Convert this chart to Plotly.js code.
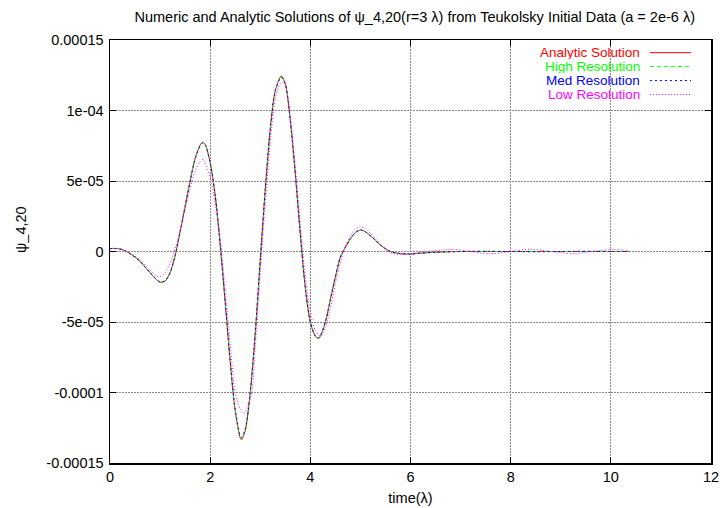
<!DOCTYPE html>
<html>
<head>
<meta charset="utf-8">
<script src="https://cdn.plot.ly/plotly-3.0.1.min.js"></script>
<style>html,body{margin:0;padding:0;background:#fff;}#chart{width:720px;height:508px;}</style>
</head>
<body>
<div id="chart"></div>
<script>
// time samples (lambda)
const tAnalytic = [0,0.1,0.2,0.3,0.4,0.5,0.6,0.7,0.8,0.9,1.0,1.1,1.2,1.3,1.4,1.5,1.6,1.7,1.8,1.85,1.9,2.0,2.1,2.2,2.3,2.4,2.5,2.62,2.7,2.8,2.9,3.0,3.1,3.2,3.3,3.42,3.5,3.6,3.7,3.8,3.9,4.0,4.1,4.17,4.3,4.4,4.5,4.6,4.7,4.8,4.9,5.0,5.1,5.2,5.3,5.4,5.5,5.6,5.8,6.0,6.2,6.5,7.0,7.5,8.0,8.5,9.0,9.5,10.0,10.35];
const analytic = [0.2e-5,0.22e-5,0.18e-5,0.05e-5,-0.15e-5,-0.4e-5,-0.7e-5,-1.1e-5,-1.5e-5,-1.9e-5,-2.18e-5,-2.1e-5,-1.5e-5,-0.3e-5,1.4e-5,3.2e-5,5.0e-5,6.6e-5,7.55e-5,7.75e-5,7.6e-5,6.3e-5,4.0e-5,0.5e-5,-3.6e-5,-7.8e-5,-11.3e-5,-13.35e-5,-12.7e-5,-10.0e-5,-5.8e-5,-0.6e-5,4.4e-5,8.7e-5,11.4e-5,12.45e-5,11.9e-5,9.3e-5,5.5e-5,1.2e-5,-2.6e-5,-5.0e-5,-6.0e-5,-6.16e-5,-5.0e-5,-3.4e-5,-1.8e-5,-0.4e-5,0.3e-5,0.9e-5,1.35e-5,1.52e-5,1.4e-5,1.1e-5,0.8e-5,0.45e-5,0.2e-5,0.0,-0.15e-5,-0.18e-5,-0.12e-5,-0.05e-5,0,0,0,0,0,0,0,0];
const highRes = [0.2e-5,0.22e-5,0.18e-5,0.05e-5,-0.15e-5,-0.4e-5,-0.7e-5,-1.1e-5,-1.5e-5,-1.9e-5,-2.17e-5,-2.1e-5,-1.5e-5,-0.3e-5,1.4e-5,3.2e-5,5.0e-5,6.6e-5,7.55e-5,7.73e-5,7.6e-5,6.3e-5,4.0e-5,0.5e-5,-3.6e-5,-7.8e-5,-11.3e-5,-13.3e-5,-12.7e-5,-10.0e-5,-5.8e-5,-0.6e-5,4.4e-5,8.7e-5,11.4e-5,12.4e-5,11.9e-5,9.3e-5,5.5e-5,1.2e-5,-2.6e-5,-5.0e-5,-6.0e-5,-6.15e-5,-5.0e-5,-3.4e-5,-1.8e-5,-0.4e-5,0.3e-5,0.9e-5,1.35e-5,1.53e-5,1.4e-5,1.1e-5,0.8e-5,0.45e-5,0.2e-5,0.0,-0.15e-5,-0.18e-5,-0.12e-5,-0.05e-5,0,0,0,0,0,0,0,0];
const medRes = [0.2e-5,0.22e-5,0.18e-5,0.05e-5,-0.15e-5,-0.4e-5,-0.7e-5,-1.1e-5,-1.5e-5,-1.9e-5,-2.15e-5,-2.08e-5,-1.5e-5,-0.3e-5,1.4e-5,3.2e-5,5.0e-5,6.55e-5,7.5e-5,7.7e-5,7.55e-5,6.3e-5,4.0e-5,0.5e-5,-3.6e-5,-7.8e-5,-11.2e-5,-13.2e-5,-12.6e-5,-10.0e-5,-5.8e-5,-0.6e-5,4.4e-5,8.7e-5,11.4e-5,12.35e-5,11.9e-5,9.3e-5,5.5e-5,1.2e-5,-2.6e-5,-5.0e-5,-6.0e-5,-6.12e-5,-5.0e-5,-3.4e-5,-1.8e-5,-0.4e-5,0.3e-5,0.9e-5,1.35e-5,1.54e-5,1.4e-5,1.1e-5,0.8e-5,0.45e-5,0.2e-5,0.0,-0.15e-5,-0.18e-5,-0.12e-5,-0.05e-5,0,0.02e-5,0,-0.02e-5,0,0.02e-5,0,0];
const tLow = [0,0.2,0.4,0.6,0.8,0.97,1.1,1.2,1.3,1.4,1.5,1.6,1.7,1.8,1.86,1.9,2.0,2.1,2.2,2.3,2.4,2.5,2.6,2.68,2.75,2.83,2.9,3.0,3.1,3.2,3.3,3.4,3.46,3.5,3.6,3.7,3.8,3.9,4.0,4.1,4.2,4.3,4.4,4.5,4.6,4.7,4.8,4.9,5.0,5.1,5.2,5.3,5.4,5.5,5.6,5.8,6.0,6.3,6.6,6.85,7.1,7.4,7.6,7.9,8.1,8.4,8.7,9.0,9.25,9.5,9.8,10.05,10.25,10.35];
const lowRes = [0.2e-5,0.18e-5,-0.1e-5,-0.6e-5,-1.3e-5,-1.8e-5,-1.5e-5,-0.8e-5,0.2e-5,1.5e-5,3.0e-5,4.5e-5,5.7e-5,6.4e-5,6.55e-5,6.3e-5,5.3e-5,3.4e-5,1.0e-5,-2.8e-5,-6.6e-5,-10.0e-5,-11.2e-5,-11.5e-5,-11.0e-5,-10.0e-5,-6.8e-5,-1.6e-5,3.4e-5,7.8e-5,10.8e-5,11.9e-5,12.0e-5,11.8e-5,9.6e-5,6.0e-5,2.0e-5,-1.8e-5,-4.3e-5,-5.6e-5,-6.0e-5,-5.4e-5,-4.0e-5,-2.3e-5,-0.8e-5,0.4e-5,1.1e-5,1.6e-5,1.75e-5,1.65e-5,1.3e-5,0.9e-5,0.5e-5,0.15e-5,-0.1e-5,-0.2e-5,-0.15e-5,0.0,0.1e-5,0.16e-5,0.05e-5,-0.1e-5,-0.16e-5,-0.05e-5,0.05e-5,0.16e-5,0.05e-5,-0.08e-5,-0.16e-5,-0.05e-5,0.08e-5,0.15e-5,0.1e-5,0.05e-5];

const seriesNames = ["Analytic Solution","High Resolution","Med Resolution","Low Resolution"];
const seriesColors = ["#ff0000","#00ff00","#0000ff","#ff00ff"];
const seriesDash = ["solid","4px,3px","2px,3px","1px,2px"];

const xTicks = [0,2,4,6,8,10,12];
const yTickVals = [-0.00015,-0.0001,-0.00005,0,0.00005,0.0001,0.00015];
const yTickText = ["-0.00015","-0.0001","-5e-05","0","5e-05","1e-04","0.00015"];

const xs = [tAnalytic,tAnalytic,tAnalytic,tLow];
const ys = [analytic,highRes,medRes,lowRes];

const traces = ys.map((y,i)=>({
  x: xs[i], y: y, type:'scatter', mode:'lines', name: seriesNames[i], showlegend:false,
  line:{color:seriesColors[i], width:1, dash:seriesDash[i], shape:'spline', smoothing:0.8},
  hoverinfo:'skip'
}));

const fam = '"Liberation Sans", Arial, sans-serif';
const font = {family:fam, size:14.5, color:'#000'};
const legendRows = [0.970,0.937,0.904,0.871];
const annotations = seriesNames.map((n,i)=>({
  xref:'paper', yref:'paper', x:0.8835, y:legendRows[i], xanchor:'right', yanchor:'middle',
  text:n, showarrow:false, font:{family:fam, size:13.5, color:seriesColors[i]},
  borderpad:0, height:13
}));
annotations.push({
  xref:'paper', yref:'paper', x:-0.148, y:0.551, xanchor:'center', yanchor:'middle',
  text:'ψ_4,20', textangle:-90, showarrow:false, font:font
});
const shapes = seriesNames.map((n,i)=>({
  type:'line', xref:'paper', yref:'paper', x0:0.8985, x1:0.9667, y0:legendRows[i], y1:legendRows[i],
  line:{color:seriesColors[i], width:1, dash:seriesDash[i]}
}));

const axisCommon = {
  showline:true, linecolor:'#000', linewidth:1.5, mirror:'ticks',
  ticks:'inside', ticklen:6, tickcolor:'#000', tickwidth:1,
  showgrid:true, gridcolor:'#888', griddash:'2px,1px', gridwidth:1,
  zeroline:false, tickfont:font, automargin:false
};

const layout = {
  width:720, height:508,
  margin:{l:110, r:9, t:40, b:45},
  paper_bgcolor:'#fff', plot_bgcolor:'#fff',
  font:font,
  title:{text:'Numeric and Analytic Solutions of ψ_4,20(r=3 λ) from Teukolsky Initial Data (a = 2e-6 λ)',
         x:0.576, xanchor:'center', y:0.966, yanchor:'middle', font:font},
  xaxis:Object.assign({}, axisCommon, {range:[0,12], tickvals:xTicks, ticktext:xTicks.map(String),
         title:{text:'time(λ)', font:font, standoff:9}}),
  yaxis:Object.assign({}, axisCommon, {range:[-0.00015,0.00015], tickvals:yTickVals, ticktext:yTickText,
         ticklabelstandoff:2}),
  annotations:annotations,
  shapes:shapes,
  showlegend:false
};

Plotly.newPlot('chart', traces, layout, {staticPlot:true, displayModeBar:false});
</script>
</body>
</html>
